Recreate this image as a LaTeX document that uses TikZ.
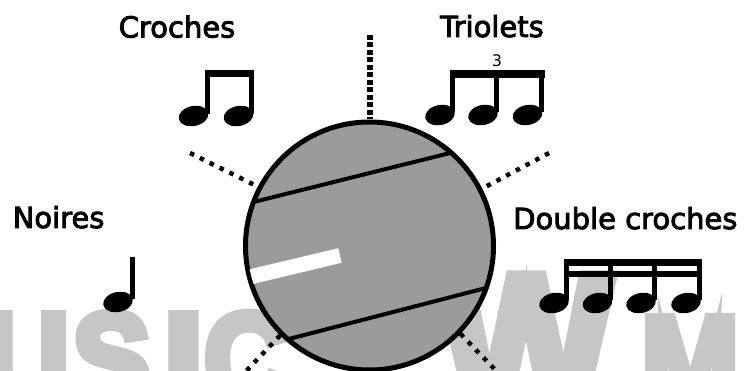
\documentclass[tikz,border=0pt]{standalone}
\usepackage{fontspec}
\setmainfont{DejaVu Sans}
\newfontfamily\lblfont[FakeBold=3]{DejaVu Sans}
\newfontfamily\wmfont[FakeBold=7]{Liberation Sans Bold}
\usetikzlibrary{shapes.geometric}
\definecolor{dialgray}{RGB}{155,155,155}
\definecolor{markgray}{RGB}{198,198,198}

\begin{document}
\begin{tikzpicture}[x=1pt,y=-1pt,
   lbl/.style={font=\lblfont\fontsize{29}{35}\selectfont,anchor=base west,inner sep=0pt},
   head/.style={ellipse,fill=black,inner sep=0pt,minimum width=30pt,minimum height=20pt,rotate=12},
   stem/.style={line width=5pt},
   beam/.style={fill=black},
   dial/.style={circle,draw,line width=5pt,fill=dialgray,minimum size=248pt,inner sep=0pt},
   spoke/.style={line width=4.5pt,dash pattern=on 4.5pt off 6.5pt},
   wm/.style={text=markgray,font=\wmfont\fontsize{130}{130}\selectfont,anchor=base,
              inner sep=0pt,xscale=0.9}]
  \path[use as bounding box,fill=white] (0,0) rectangle (746,371);
  \clip (0,0) rectangle (746,371);
  % watermark behind everything
  \node[wm] (wmu) at (27,404) {U};
  \node[wm] (wms) at (111.5,404) {S};
  \node[wm,xscale=1.2] (wmi) at (183.5,404) {I};
  \node[wm] (wmc) at (246.5,404) {C};
  \node[wm,font=\wmfont\fontsize{200}{200}\selectfont] (wmw) at (526,415) {W};
  \node[wm] (wmm) at (690,407) {M};
  % labels
  \node[lbl] (croches) at (118.5,37.5) {Croches};
  \node[lbl] (triolets) at (440,37) {Triolets};
  \node[lbl] (noires) at (12.5,228) {Noires};
  \node[lbl] (dcroches) at (513,229) {Double croches};
  % the dial
  \node[dial] (dial) at (369.5,246) {};
  \begin{scope}
    \clip (dial.center) circle[radius=122pt];
    \draw[line width=4pt] (dial.160.9) -- (dial.48.6);
    \draw[line width=4pt] (dial.228.2) -- (dial.341);
    \draw[white,line width=15pt] (240,279.3) -- (340,255.5);
  \end{scope}
  % spokes
  \coordinate (topend) at (369.5,35);
  \coordinate (ulend) at (190,153);
  \coordinate (urend) at (549,153);
  \coordinate (llend) at (232,386);
  \coordinate (lrend) at (508,383);
  \draw[spoke,line width=6pt,dash pattern=on 5pt off 2.5pt] (topend) -- (dial.north);
  \draw[spoke] (ulend) -- (dial.152.5);
  \draw[spoke] (urend) -- (dial.27.5);
  \draw[spoke] (dial.225) -- (llend);
  \draw[spoke] (dial.-44) -- (lrend);
  % croches
  \node[head] (cr1) at (193.5,116) {};
  \node[head] (cr2) at (238.5,116) {};
  \draw[stem] (207.5,114) -- (207.5,72);
  \draw[stem] (251.5,114) -- (251.5,72);
  \fill[beam] (205,70) rectangle (254,77);
  % triolets
  \node[head] (tr1) at (440,115) {};
  \node[head] (tr2) at (483,115) {};
  \node[head] (tr3) at (527.5,115) {};
  \draw[stem] (452.5,112) -- (452.5,72);
  \draw[stem] (496.5,112) -- (496.5,72);
  \draw[stem] (541.5,112) -- (541.5,72);
  \fill[beam] (449.5,70.5) rectangle (544.5,78);
  \node[font=\fontsize{16}{16}\selectfont,inner sep=0pt,anchor=base] (three) at (497,67) {3};
  % noire
  \node[head] (no1) at (118,302) {};
  \draw[stem] (132.5,299) -- (132.5,257);
  % double croches
  \node[head] (dc1) at (554,303) {};
  \node[head] (dc2) at (597.5,303) {};
  \node[head] (dc3) at (641,303) {};
  \node[head] (dc4) at (686,303) {};
  \draw[stem] (566,300) -- (566,261);
  \draw[stem] (610.5,300) -- (610.5,261);
  \draw[stem] (654.5,300) -- (654.5,261);
  \draw[stem] (699,300) -- (699,261);
  \fill[beam] (563.5,259) rectangle (701.5,266);
  \fill[beam] (563.5,271) rectangle (701.5,277);
\end{tikzpicture}
\end{document}
